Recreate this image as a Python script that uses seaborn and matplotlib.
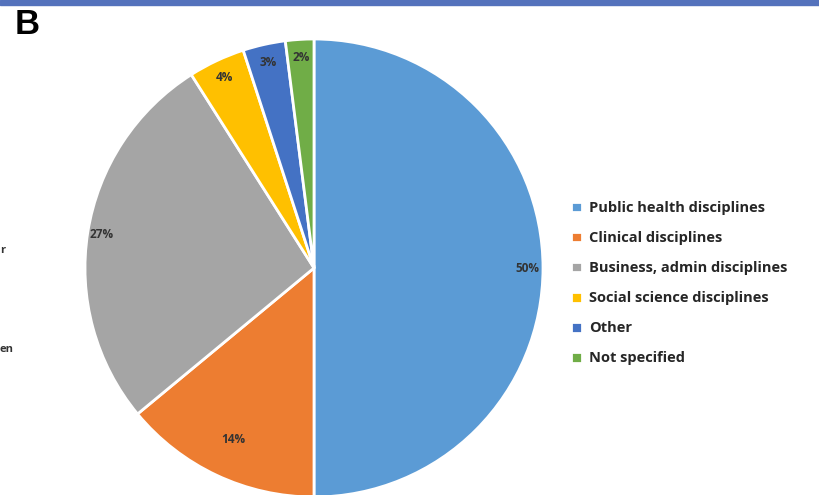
import matplotlib
matplotlib.use("Agg")
import matplotlib.pyplot as plt
import seaborn as sns
import numpy as np

sns.set_theme(style="white")
plt.rcParams['font.family'] = ['Open Sans', 'DejaVu Sans']

categories = ["Public health disciplines", "Clinical disciplines", "Business, admin disciplines",
              "Social science disciplines", "Other", "Not specified"]
values = [50, 14, 27, 4, 3, 2]
pct_labels = ["50%", "14%", "27%", "4%", "3%", "2%"]
colors = ["#5B9BD5", "#ED7D31", "#A5A5A5", "#FFC000", "#4472C4", "#70AD47"]
label_dist = [0.93, 0.83, 0.94, 0.92, 0.92, 0.92]

W, H = 820, 495
fig = plt.figure(figsize=(W / 100, H / 100), dpi=100)

cx, cy, r = 314, 268, 229
ax = fig.add_axes([(cx - r) / W, (H - cy - r) / H, 2 * r / W, 2 * r / H])
wedges, _ = ax.pie(values, colors=colors, startangle=90, counterclock=False,
                   wedgeprops=dict(edgecolor="white", linewidth=2), radius=1)
ax.set_xlim(-1, 1)
ax.set_ylim(-1, 1)
ax.set_aspect("equal")
ax.axis("off")

for w, lab, d in zip(wedges, pct_labels, label_dist):
    ang = np.deg2rad((w.theta1 + w.theta2) / 2)
    ax.text(d * np.cos(ang), d * np.sin(ang), lab, ha="center", va="center",
            fontsize=8.5, fontweight="bold", color="#333333")

leg = fig.legend(wedges, categories, loc="upper left",
                 bbox_to_anchor=(558 / W, 1 - 188 / H), frameon=False,
                 prop=dict(size=10.5, weight="bold"), labelcolor="#262626",
                 handlelength=0.75, handleheight=0.75, handletextpad=0.45,
                 labelspacing=1.1)

# top banner bar
fig.patches.append(plt.Rectangle((0, 1 - 5 / H), 1, 5 / H, transform=fig.transFigure,
                                 color="#5472BC", zorder=5))
fig.text(15 / W, 1 - 24 / H, "B", fontsize=25, fontweight="bold", color="black",
         ha="left", va="center", family=["Liberation Sans Narrow", "Liberation Sans", "DejaVu Sans"])
fig.text(0, 1 - 250 / H, "r", fontsize=8, fontweight="bold", color="#333333", ha="left", va="center")
fig.text(0, 1 - 350 / H, "en", fontsize=8, fontweight="bold", color="#333333", ha="left", va="center")

fig.savefig("out.png", dpi=100)
